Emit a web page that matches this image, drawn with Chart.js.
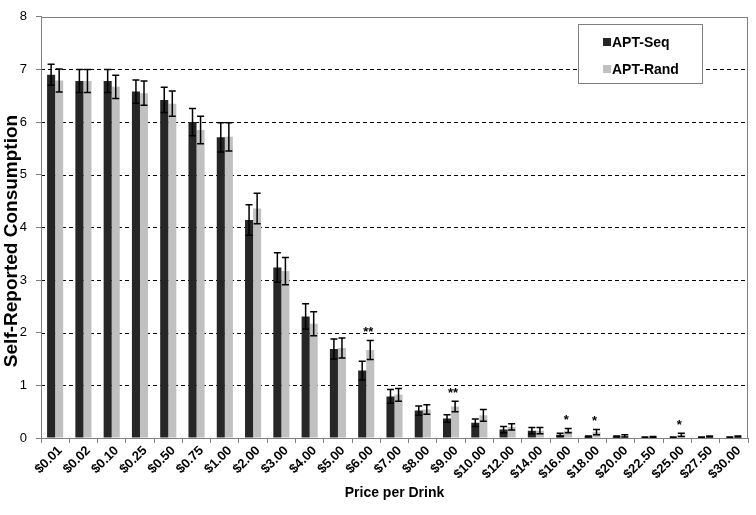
<!DOCTYPE html>
<html>
<head>
<meta charset="utf-8">
<script src="https://cdn.jsdelivr.net/npm/chart.js@4.4.1/dist/chart.umd.min.js"></script>
<style>
html,body{margin:0;padding:0;background:#fff;}
#wrap{width:756px;height:515px;position:relative;}
</style>
</head>
<body>
<div id="wrap"><canvas id="c" width="756" height="515"></canvas></div>
<script>
const categories = ['$0.01','$0.02','$0.10','$0.25','$0.50','$0.75','$1.00','$2.00','$3.00','$4.00','$5.00','$6.00','$7.00','$8.00','$9.00','$10.00','$12.00','$14.00','$16.00','$18.00','$20.00','$22.50','$25.00','$27.50','$30.00'];
const seqValues  = [6.90,6.78,6.78,6.58,6.42,6.00,5.71,4.14,3.24,2.31,1.69,1.28,0.79,0.52,0.37,0.29,0.16,0.14,0.06,0.03,0.03,0.01,0.01,0.01,0.01];
const seqErrors  = [0.20,0.22,0.22,0.22,0.24,0.26,0.28,0.29,0.28,0.24,0.19,0.18,0.13,0.09,0.07,0.07,0.06,0.06,0.03,0.01,0.01,0.01,0.01,0.01,0.01];
const randValues = [6.79,6.78,6.67,6.55,6.35,5.85,5.72,4.36,3.17,2.17,1.71,1.67,0.82,0.54,0.60,0.43,0.21,0.14,0.14,0.11,0.04,0.02,0.06,0.03,0.03];
const randErrors = [0.22,0.22,0.22,0.23,0.24,0.26,0.27,0.29,0.26,0.23,0.19,0.18,0.12,0.09,0.10,0.11,0.06,0.06,0.04,0.05,0.02,0.01,0.03,0.01,0.01];
const sigMarks   = ['','','','','','','','','','','','**','','','**','','','','*','*','','','*','',''];
const yTicks = [0,1,2,3,4,5,6,7,8];
const seriesNames = ['APT-Seq','APT-Rand'];
const seriesColors = ['#262626','#c0c0c0'];
const errorSets = [seqErrors, randErrors];
const yTitle = 'Self-Reported Consumption';

const FONT = '"Liberation Sans", Arial, sans-serif';

const frame = {
  id:'frame',
  beforeDatasetsDraw(chart){
    const {ctx, chartArea:a, scales:{y}} = chart;
    ctx.save();
    ctx.strokeStyle = '#000';
    ctx.lineWidth = 1;
    ctx.setLineDash([4,3]);
    yTicks.forEach(t => {
      if (t === 0 || t === 8) return;
      const py = Math.round(y.getPixelForValue(t)) + 0.5;
      ctx.beginPath(); ctx.moveTo(a.left, py); ctx.lineTo(a.right, py); ctx.stroke();
    });
    ctx.restore();
  },
  afterDatasetsDraw(chart){
    const {ctx, chartArea:a, scales:{x,y}} = chart;
    ctx.save();
    ctx.strokeStyle = '#000';
    ctx.lineWidth = 1.5;
    chart.data.datasets.forEach((ds, i) => {
      const meta = chart.getDatasetMeta(i);
      const errs = errorSets[i];
      meta.data.forEach((el, j) => {
        const v = ds.data[j], e = errs[j];
        const t = y.getPixelForValue(v + e), b = y.getPixelForValue(Math.max(0, v - e));
        const cx = el.x;
        ctx.beginPath();
        ctx.moveTo(cx, t); ctx.lineTo(cx, b);
        ctx.moveTo(cx - 3.5, t); ctx.lineTo(cx + 3.5, t);
        ctx.moveTo(cx - 3.5, b); ctx.lineTo(cx + 3.5, b);
        ctx.stroke();
      });
    });
    ctx.fillStyle = '#000';
    ctx.font = 'bold 13px ' + FONT;
    ctx.textAlign = 'center';
    ctx.textBaseline = 'middle';
    sigMarks.forEach((m, j) => {
      if (!m) return;
      const top = Math.max(seqValues[j] + seqErrors[j], randValues[j] + randErrors[j]);
      const px = x.getPixelForValue(j) + 2;
      const py = y.getPixelForValue(top) - 11;
      ctx.fillText(m, px, py + 3);
    });
    ctx.strokeStyle = '#808080';
    ctx.lineWidth = 1;
    ctx.strokeRect(Math.round(a.left) + 0.5, Math.round(a.top) + 0.5, Math.round(a.right - a.left) - 1, Math.round(a.bottom - a.top));
    ctx.save();
    ctx.translate(12, 241);
    ctx.rotate(-Math.PI / 2);
    ctx.font = 'bold 19px ' + FONT;
    ctx.fillStyle = '#000';
    ctx.textAlign = 'center';
    ctx.textBaseline = 'middle';
    ctx.fillText(yTitle, 0, 0);
    ctx.restore();
    const lx = 578, ly = 24, lw = 124, lh = 59;
    ctx.fillStyle = '#fff';
    ctx.fillRect(lx, ly, lw, lh);
    ctx.strokeStyle = '#808080';
    ctx.strokeRect(lx + 0.5, ly + 0.5, lw, lh);
    ctx.font = 'bold 14px ' + FONT;
    ctx.textAlign = 'left';
    ctx.textBaseline = 'middle';
    seriesNames.forEach((n, i) => {
      const ry = ly + 18 + i * 27;
      ctx.fillStyle = seriesColors[i];
      ctx.fillRect(lx + 25, ry - 4, 8, 8);
      ctx.fillStyle = '#000';
      ctx.fillText(n, lx + 34, ry + 1);
    });
    ctx.restore();
  }
};

new Chart(document.getElementById('c'), {
  type: 'bar',
  data: {
    labels: categories,
    datasets: [
      { label: seriesNames[0], data: seqValues, backgroundColor: seriesColors[0], categoryPercentage: 0.57, barPercentage: 1.0 },
      { label: seriesNames[1], data: randValues, backgroundColor: seriesColors[1], categoryPercentage: 0.57, barPercentage: 1.0 }
    ]
  },
  options: {
    responsive: false,
    animation: false,
    devicePixelRatio: 1,
    layout: { padding: { left: 0, right: 8, top: 12, bottom: 0 } },
    plugins: { legend: { display: false }, tooltip: { enabled: false } },
    scales: {
      x: {
        offset: true,
        grid: { display: true, offset: true, drawOnChartArea: false, drawTicks: true, tickLength: 5, color: '#808080' },
        border: { display: true, color: '#808080' },
        ticks: { color: '#000', font: { family: FONT, size: 13, weight: 'bold' }, minRotation: 45, maxRotation: 45, autoSkip: false, padding: 0, labelOffset: 5 },
        title: { display: true, text: 'Price per Drink', color: '#000', font: { family: FONT, size: 14, weight: 'bold' }, padding: { top: 0, bottom: 13 } },
        afterFit: s => { s.height = 77; }
      },
      y: {
        min: 0, max: 8,
        afterBuildTicks: s => { s.ticks = yTicks.map(v => ({ value: v })); },
        grid: { display: true, drawOnChartArea: false, drawTicks: true, tickLength: 5, color: '#808080' },
        border: { display: true, color: '#808080' },
        ticks: { color: '#000', font: { family: FONT, size: 13 }, padding: 9 },
        title: { display: false },
        afterFit: s => { s.width = 41; }
      }
    }
  },
  plugins: [frame]
});
</script>
</body>
</html>
